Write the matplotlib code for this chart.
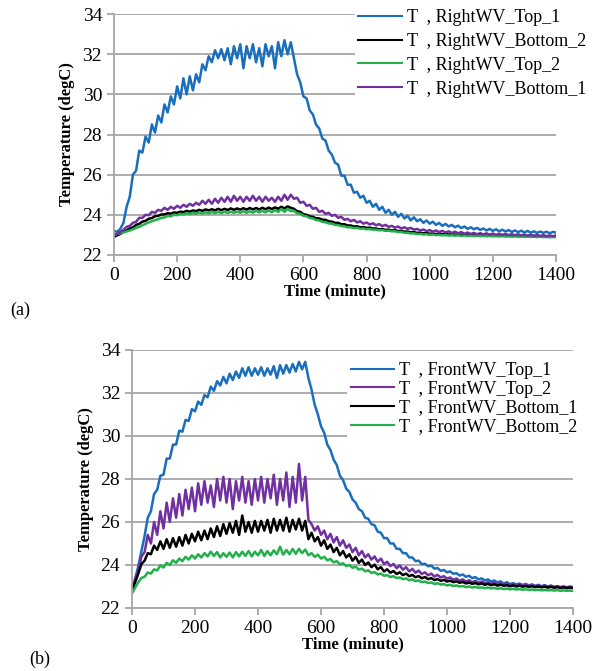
import matplotlib
matplotlib.use('Agg')
import matplotlib.pyplot as plt
import numpy as np

plt.rcParams['font.family'] = ['Liberation Serif', 'DejaVu Serif']

# time axis, minutes (one reading every 10 min)
time_min = np.arange(0, 1410, 10)

# ---- panel (a): right WV ----
right_top_1 = [
    23.2, 23.15, 23.3, 23.6, 24.4, 24.9, 26.0, 26.2, 27.2, 27.1,
    27.9, 27.6, 28.5, 28.1, 28.95, 28.6, 29.5, 29.1, 29.9, 29.5,
    30.4, 29.8, 30.8, 30.0, 30.9, 30.2, 31.0, 30.6, 31.5, 31.2,
    31.9, 31.6, 32.2, 31.8, 32.25, 31.7, 32.3, 31.5, 32.4, 31.8,
    32.5, 31.3, 32.4, 31.8, 32.5, 31.6, 32.3, 31.4, 32.5, 31.9,
    32.4, 31.3, 32.6, 31.9, 32.7, 32.0, 32.6, 31.8, 31.0, 30.6,
    29.9, 29.8, 29.2, 29.0, 28.5, 28.3, 27.8, 27.7, 27.2, 27.0,
    26.6, 26.5, 25.95, 25.95, 25.5, 25.5, 25.1, 25.15, 24.85, 24.95,
    24.6, 24.7, 24.4, 24.55, 24.25, 24.4, 24.1, 24.25, 24.0, 24.15,
    23.9, 24.05, 23.82, 23.95, 23.72, 23.88, 23.68, 23.78, 23.6, 23.72,
    23.56, 23.66, 23.5, 23.6, 23.45, 23.55, 23.42, 23.5, 23.38, 23.46,
    23.34, 23.42, 23.3, 23.38, 23.28, 23.35, 23.25, 23.32, 23.22, 23.3,
    23.2, 23.28, 23.18, 23.26, 23.17, 23.24, 23.15, 23.22, 23.14, 23.21,
    23.12, 23.2, 23.11, 23.18, 23.1, 23.17, 23.1, 23.16, 23.08, 23.15,
    23.12]
right_bottom_2 = [
    22.9, 22.98, 23.05, 23.15, 23.22, 23.32, 23.38, 23.5, 23.55, 23.66,
    23.7, 23.8, 23.84, 23.93, 23.95, 24.02, 24.02, 24.08, 24.06, 24.12,
    24.1, 24.16, 24.13, 24.2, 24.16, 24.22, 24.18, 24.25, 24.2, 24.27,
    24.22, 24.28, 24.22, 24.3, 24.23, 24.3, 24.24, 24.32, 24.25, 24.32,
    24.26, 24.33, 24.26, 24.34, 24.27, 24.34, 24.27, 24.35, 24.28, 24.36,
    24.29, 24.37, 24.3, 24.4, 24.32, 24.42, 24.35, 24.3, 24.18, 24.15,
    24.03, 24.0, 23.92, 23.9, 23.83, 23.82, 23.76, 23.75, 23.68, 23.66,
    23.6, 23.6, 23.53, 23.53, 23.47, 23.47, 23.42, 23.43, 23.38, 23.39,
    23.35, 23.36, 23.32, 23.32, 23.28, 23.29, 23.25, 23.26, 23.22, 23.23,
    23.19, 23.2, 23.16, 23.17, 23.13, 23.14, 23.1, 23.11, 23.08, 23.09,
    23.06, 23.07, 23.04, 23.06, 23.03, 23.05, 23.02, 23.04, 23.01, 23.03,
    23.0, 23.02, 22.99, 23.01, 22.99, 23.0, 22.98, 23.0, 22.97, 22.99,
    22.97, 22.98, 22.96, 22.98, 22.95, 22.97, 22.95, 22.96, 22.94, 22.96,
    22.94, 22.95, 22.93, 22.95, 22.93, 22.94, 22.92, 22.94, 22.92, 22.93,
    22.92]
right_top_2 = [
    23.0, 23.05, 23.08, 23.12, 23.17, 23.22, 23.28, 23.35, 23.4, 23.48,
    23.55, 23.62, 23.68, 23.74, 23.78, 23.85, 23.87, 23.94, 23.93, 24.0,
    23.98, 24.05, 24.02, 24.08, 24.04, 24.1, 24.05, 24.12, 24.06, 24.13,
    24.07, 24.14, 24.08, 24.15, 24.08, 24.16, 24.09, 24.16, 24.1, 24.17,
    24.1, 24.18, 24.1, 24.18, 24.11, 24.2, 24.12, 24.2, 24.12, 24.22,
    24.13, 24.24, 24.14, 24.3, 24.15, 24.3, 24.18, 24.2, 24.08, 24.05,
    23.95, 23.93, 23.84, 23.82, 23.74, 23.72, 23.65, 23.63, 23.57, 23.56,
    23.5, 23.49, 23.44, 23.43, 23.38, 23.38, 23.34, 23.35, 23.31, 23.32,
    23.28, 23.29, 23.26, 23.26, 23.23, 23.24, 23.2, 23.21, 23.18, 23.18,
    23.14, 23.15, 23.1, 23.11, 23.07, 23.08, 23.04, 23.05, 23.02, 23.03,
    23.0, 23.02, 22.99, 23.0, 22.98, 22.99, 22.97, 22.98, 22.96, 22.98,
    22.95, 22.97, 22.95, 22.96, 22.94, 22.96, 22.94, 22.95, 22.93, 22.95,
    22.93, 22.94, 22.92, 22.94, 22.92, 22.93, 22.91, 22.93, 22.91, 22.92,
    22.9, 22.92, 22.9, 22.91, 22.89, 22.91, 22.89, 22.9, 22.88, 22.9,
    22.89]
right_bottom_1 = [
    23.0, 23.05, 23.15, 23.25, 23.4, 23.45, 23.6, 23.65, 23.85, 23.85,
    24.0, 23.98, 24.15, 24.1, 24.25, 24.2, 24.35, 24.25, 24.4, 24.3,
    24.45, 24.35, 24.5, 24.4, 24.55, 24.45, 24.6, 24.5, 24.7, 24.55,
    24.75, 24.55, 24.8, 24.6, 24.85, 24.65, 24.9, 24.65, 24.95, 24.7,
    24.9, 24.65, 24.9, 24.7, 24.95, 24.7, 24.9, 24.65, 24.9, 24.7,
    24.85, 24.65, 24.9, 24.7, 25.0, 24.75, 25.0, 24.8, 24.85, 24.6,
    24.65, 24.45, 24.5, 24.3, 24.35, 24.15, 24.2, 24.05, 24.1, 23.95,
    24.0, 23.85, 23.9, 23.75, 23.8, 23.68, 23.75, 23.62, 23.68, 23.56,
    23.62, 23.52, 23.58, 23.48, 23.54, 23.44, 23.5, 23.4, 23.45, 23.36,
    23.42, 23.32, 23.38, 23.3, 23.35, 23.26, 23.3, 23.22, 23.27, 23.19,
    23.24, 23.16, 23.22, 23.14, 23.2, 23.12, 23.18, 23.1, 23.16, 23.08,
    23.14, 23.06, 23.12, 23.05, 23.1, 23.03, 23.09, 23.02, 23.08, 23.01,
    23.07, 23.0, 23.06, 23.0, 23.05, 22.99, 23.04, 22.98, 23.03, 22.97,
    23.02, 22.96, 23.01, 22.95, 23.0, 22.94, 22.99, 22.93, 22.98, 22.93,
    22.98]

# ---- panel (b): front WV ----
front_top_1 = [
    22.76, 23.35, 23.95, 24.65, 25.35, 26.2, 26.5, 27.3, 27.5, 28.15,
    28.2, 28.95, 28.95, 29.6, 29.6, 30.25, 30.2, 30.75, 30.7, 31.25,
    31.15, 31.6, 31.45, 31.9, 31.8, 32.3, 32.1, 32.55, 32.35, 32.75,
    32.45, 32.9, 32.6, 33.0, 32.7, 33.15, 32.8, 33.2, 32.8, 33.15,
    32.85, 33.2, 32.8, 33.15, 32.85, 33.25, 32.7, 33.3, 32.9, 33.3,
    32.95, 33.35, 33.0, 33.45, 33.1, 33.45, 32.7, 32.15, 31.45, 31.0,
    30.45, 30.15, 29.6, 29.35, 28.9, 28.65, 28.15, 27.95, 27.55, 27.4,
    27.05, 26.9, 26.6, 26.5, 26.2, 26.15, 25.9, 25.85, 25.55, 25.5,
    25.25, 25.25, 25.0, 25.0, 24.75, 24.75, 24.55, 24.55, 24.35, 24.35,
    24.18, 24.2, 24.04, 24.06, 23.94, 23.97, 23.83, 23.86, 23.73, 23.77,
    23.66, 23.7, 23.59, 23.62, 23.51, 23.56, 23.45, 23.5, 23.39, 23.44,
    23.33, 23.38, 23.28, 23.33, 23.23, 23.28, 23.19, 23.24, 23.14, 23.2,
    23.11, 23.16, 23.09, 23.14, 23.07, 23.12, 23.05, 23.1, 23.03, 23.08,
    23.01, 23.06, 22.99, 23.04, 22.97, 23.01, 22.94, 22.99, 22.92, 22.96,
    22.92]
front_top_2 = [
    22.9, 23.35, 23.75, 24.4, 24.6, 25.4, 25.0, 26.0, 25.4, 26.5,
    25.7, 26.9, 26.0, 27.1, 26.2, 27.3, 26.3, 27.5, 26.6, 27.6,
    26.5, 27.8, 26.8, 27.9, 26.9, 27.7, 26.7, 28.0, 27.0, 28.1,
    26.9, 28.0, 26.6, 27.9, 27.0, 28.1, 26.9, 27.9, 26.8, 28.0,
    27.0, 28.1, 26.9, 28.0, 27.1, 28.2, 26.8, 28.0, 27.0, 28.3,
    26.7, 28.1, 26.9, 28.7, 27.0, 28.1, 26.1, 25.9, 25.6, 25.8,
    25.4, 25.6, 25.2, 25.45, 25.05, 25.3, 24.9, 25.15, 24.8, 24.95,
    24.6, 24.8, 24.45, 24.65, 24.35, 24.5, 24.25, 24.4, 24.15, 24.3,
    24.05, 24.15, 23.95, 24.05, 23.85, 23.98, 23.78, 23.9, 23.7, 23.82,
    23.64, 23.74, 23.58, 23.66, 23.52, 23.6, 23.46, 23.54, 23.42, 23.48,
    23.36, 23.42, 23.31, 23.37, 23.27, 23.33, 23.23, 23.29, 23.2, 23.26,
    23.17, 23.23, 23.14, 23.2, 23.12, 23.18, 23.1, 23.16, 23.08, 23.14,
    23.06, 23.12, 23.05, 23.1, 23.04, 23.09, 23.02, 23.07, 23.01, 23.06,
    23.0, 23.05, 22.99, 23.04, 22.98, 23.02, 22.97, 23.01, 22.96, 23.0,
    22.97]
front_bottom_1 = [
    22.76, 23.2, 23.6, 24.05, 24.2, 24.55, 24.5, 24.9, 24.7, 25.1,
    24.75, 25.2, 24.8, 25.25, 24.85, 25.3, 24.9, 25.4, 25.0, 25.45,
    25.1, 25.55, 25.15, 25.6, 25.2, 25.7, 25.3, 25.8, 25.35, 25.9,
    25.45, 25.95, 25.5, 26.05, 25.4, 26.3, 25.55, 26.0, 25.5, 26.05,
    25.55, 26.05, 25.6, 26.1, 25.5, 26.15, 25.6, 26.1, 25.6, 26.2,
    25.55, 26.1, 25.65, 26.15, 25.6, 26.05, 25.2, 25.5, 25.1, 25.3,
    24.9, 25.15, 24.75, 24.95, 24.6, 24.8, 24.45, 24.65, 24.35, 24.5,
    24.2, 24.38, 24.1, 24.25, 24.0, 24.12, 23.9, 24.02, 23.8, 23.9,
    23.7, 23.8, 23.64, 23.72, 23.58, 23.66, 23.53, 23.6, 23.48, 23.54,
    23.43, 23.49, 23.38, 23.44, 23.34, 23.39, 23.3, 23.35, 23.26, 23.31,
    23.23, 23.27, 23.2, 23.24, 23.17, 23.21, 23.14, 23.18, 23.12, 23.16,
    23.1, 23.14, 23.08, 23.12, 23.06, 23.1, 23.04, 23.08, 23.03, 23.06,
    23.01, 23.05, 23.0, 23.04, 22.99, 23.02, 22.98, 23.01, 22.97, 23.0,
    22.96, 22.99, 22.95, 22.98, 22.94, 22.97, 22.93, 22.96, 22.93, 22.95,
    22.93]
front_bottom_2 = [
    22.68, 22.95, 23.2, 23.4, 23.45, 23.65, 23.6, 23.8, 23.75, 23.98,
    23.88, 24.1, 24.0, 24.22, 24.1, 24.3, 24.18, 24.38, 24.25, 24.45,
    24.3, 24.5, 24.35, 24.55, 24.4, 24.62, 24.42, 24.6, 24.35, 24.55,
    24.38, 24.58, 24.35, 24.6, 24.4, 24.62, 24.42, 24.65, 24.4, 24.62,
    24.45, 24.7, 24.42, 24.65, 24.45, 24.68, 24.5, 24.85, 24.48, 24.7,
    24.5, 24.75, 24.52, 24.75, 24.55, 24.72, 24.45, 24.55, 24.38, 24.48,
    24.3, 24.38, 24.22, 24.28, 24.12, 24.18, 24.03, 24.08, 23.95, 24.0,
    23.87, 23.92, 23.79, 23.83, 23.71, 23.75, 23.63, 23.67, 23.56, 23.6,
    23.5, 23.53, 23.44, 23.48, 23.39, 23.42, 23.34, 23.38, 23.29, 23.33,
    23.25, 23.28, 23.2, 23.23, 23.16, 23.19, 23.12, 23.15, 23.09, 23.11,
    23.05, 23.08, 23.02, 23.05, 23.0, 23.02, 22.97, 23.0, 22.95, 22.98,
    22.94, 22.96, 22.92, 22.95, 22.91, 22.93, 22.89, 22.92, 22.88, 22.9,
    22.87, 22.89, 22.86, 22.88, 22.85, 22.87, 22.84, 22.86, 22.83, 22.85,
    22.82, 22.84, 22.82, 22.83, 22.81, 22.83, 22.8, 22.82, 22.8, 22.81,
    22.79]

BLUE = '#1a6fbd'
PURPLE = '#7030a0'
BLACK = '#000000'
GREEN = '#22b04b'
GRID = '#a6a6a6'
LW = 1.8


def style_axes(ax):
    ax.set_xlim(0, 1400)
    ax.set_ylim(22, 34)
    ax.set_xticks(np.arange(0, 1401, 200))
    ax.set_yticks(np.arange(22, 35, 2))
    ax.grid(axis='y', color=GRID, linewidth=1.3)
    ax.set_axisbelow(True)
    for s in ['top', 'right']:
        ax.spines[s].set_visible(False)
    for s in ['left', 'bottom']:
        ax.spines[s].set_color(GRID)
        ax.spines[s].set_linewidth(1.3)
    ax.tick_params(colors=GRID, labelcolor='black', labelsize=14,
                   length=5, width=1.3, direction='out')
    ax.set_xlabel('Time (minute)', fontsize=12, fontweight='bold', labelpad=0)
    ax.set_ylabel('Temperature (degC)', fontsize=12, fontweight='bold',
                  labelpad=5)


def add_legend(ax, anchor, spacing):
    leg = ax.legend(loc='upper left', bbox_to_anchor=anchor,
                    bbox_transform=fig.transFigure, fontsize=13, frameon=True,
                    handlelength=2.4, handletextpad=0.3, labelspacing=spacing,
                    borderpad=0.2, borderaxespad=0)
    leg.get_frame().set_edgecolor('none')
    leg.get_frame().set_facecolor('white')
    leg.get_frame().set_alpha(1)
    for line in leg.get_lines():
        line.set_linewidth(1.5)


fig = plt.figure(figsize=(5.93, 6.71), dpi=100)

# (a)
ax1 = fig.add_axes([0.1922, 0.620, 0.7454, 0.359])
ax1.plot(time_min, right_top_1, color=BLUE, lw=LW, label='T  , RightWV_Top_1')
ax1.plot(time_min, right_bottom_2, color=BLACK, lw=LW, label='T  , RightWV_Bottom_2')
ax1.plot(time_min, right_top_2, color=GREEN, lw=LW, label='T  , RightWV_Top_2')
ax1.plot(time_min, right_bottom_1, color=PURPLE, lw=LW, label='T  , RightWV_Bottom_1')
style_axes(ax1)
add_legend(ax1, (0.598, 0.992), 0.38)
fig.text(0.017, 0.538, '(a)', fontsize=13, va='center')

# (b)
ax2 = fig.add_axes([0.2226, 0.0939, 0.7437, 0.3845])
ax2.plot(time_min, front_top_1, color=BLUE, lw=LW, label='T  , FrontWV_Top_1')
ax2.plot(time_min, front_top_2, color=PURPLE, lw=LW, label='T  , FrontWV_Top_2')
ax2.plot(time_min, front_bottom_1, color=BLACK, lw=LW, label='T  , FrontWV_Bottom_1')
ax2.plot(time_min, front_bottom_2, color=GREEN, lw=LW, label='T  , FrontWV_Bottom_2')
style_axes(ax2)
add_legend(ax2, (0.585, 0.466), 0.1)
fig.text(0.05, 0.018, '(b)', fontsize=13, va='center')

fig.savefig('out.png', dpi=100)
